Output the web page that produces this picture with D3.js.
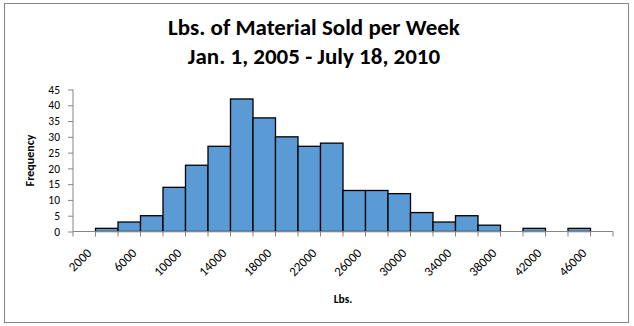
<!DOCTYPE html>
<html>
<head>
<meta charset="utf-8">
<script src="https://cdn.jsdelivr.net/npm/d3@7"></script>
<style>
body { margin:0; background:#fff; }
svg text { font-family: Calibri, Carlito, Lato, sans-serif; fill:#000; }
</style>
</head>
<body>
<svg id="chart" width="634" height="326"></svg>
<script>
// weekly sales, binned in 2000 lb steps
var bins = [2000,4000,6000,8000,10000,12000,14000,16000,18000,20000,22000,24000,
            26000,28000,30000,32000,34000,36000,38000,40000,42000,44000,46000,48000];
var freq = [0,1,3,5,14,21,27,42,36,30,27,28,13,13,12,6,3,5,2,0,1,0,1,0];
var yTicks = [0,5,10,15,20,25,30,35,40,45];
var titleLines = ["Lbs. of Material Sold per Week", "Jan. 1, 2005 - July 18, 2010"];

var svg = d3.select('#chart');
var plotLeft = 73, plotRight = 613, plotTop = 89.5, plotBottom = 231.5;
var axisColor = '#868686';

// outer frame
svg.append('rect')
	.attr('x', 4.5).attr('y', 3.5)
	.attr('width', 624).attr('height', 319)
	.attr('fill', 'none')
	.attr('stroke', axisColor)
	.attr('stroke-width', 1);

var title = svg.append('text')
	.attr('text-anchor', 'middle')
	.style('font-size', '23px')
	.style('font-weight', 'bold');
title.selectAll('tspan')
	.data(titleLines).enter()
	.append('tspan')
	.attr('x', 314)
	.attr('y', function(d, i){ return 35 + i*29;})
	.text(function(d){ return d;});

var x = d3.scaleBand()
	.domain(bins)
	.range([plotLeft, plotRight])
	.padding(0);
var y = d3.scaleLinear()
	.domain([0, 45])
	.range([plotBottom, plotTop]);

svg.append('g')
	.attr('class', 'bars')
	.selectAll('rect')
	.data(bins.filter(function(b, i){ return freq[i] > 0;}))
	.enter()
	.append('rect')
	.attr('x', function(b){ return x(b);})
	.attr('y', function(b){ return y(freq[bins.indexOf(b)]);})
	.attr('width', x.bandwidth())
	.attr('height', function(b){ return plotBottom - y(freq[bins.indexOf(b)]);})
	.attr('fill', '#5a9bd5')
	.attr('stroke', '#000')
	.attr('stroke-width', 1.3);

// y axis
var yAxis = svg.append('g')
	.attr('transform', 'translate(' + plotLeft + ',0)')
	.call(d3.axisLeft(y).tickValues(yTicks).tickSize(5).tickPadding(8));
yAxis.selectAll('path, line').attr('stroke', axisColor);
yAxis.select('.domain').attr('d', 'M0,' + plotTop + 'V' + plotBottom);
yAxis.selectAll('text')
	.style('font-size', '11.5px')
	.style('font-family', 'Calibri, Carlito, Lato, sans-serif');

// x axis: ticks sit between categories
var xAxis = svg.append('g').attr('class', 'x-axis');
xAxis.append('line')
	.attr('x1', plotLeft).attr('x2', plotRight)
	.attr('y1', plotBottom).attr('y2', plotBottom)
	.attr('stroke', axisColor);
xAxis.selectAll('line.tick')
	.data(bins.concat([null]))
	.enter()
	.append('line')
	.attr('class', 'tick')
	.attr('x1', function(b, i){ return plotLeft + i*x.bandwidth();})
	.attr('x2', function(b, i){ return plotLeft + i*x.bandwidth();})
	.attr('y1', plotBottom).attr('y2', plotBottom + 5)
	.attr('stroke', axisColor);
xAxis.selectAll('text')
	.data(bins.filter(function(b, i){ return i % 2 == 0;}))
	.enter()
	.append('text')
	.attr('transform', function(b){
		return 'translate(' + (x(b) + x.bandwidth()/2 + 5) + ',' + (plotBottom + 19) + ') rotate(-45)';
	})
	.attr('text-anchor', 'end')
	.attr('dy', '0.35em')
	.style('font-size', '13px')
	.text(function(b){ return b;});

svg.append('text')
	.attr('x', 343).attr('y', 303)
	.attr('text-anchor', 'middle')
	.style('font-size', '11.5px')
	.style('font-weight', 'bold')
	.text('Lbs.');

svg.append('text')
	.attr('transform', 'translate(34,' + ((plotTop + plotBottom)/2) + ') rotate(-90)')
	.attr('text-anchor', 'middle')
	.style('font-size', '12px')
	.style('font-weight', 'bold')
	.text('Frequency');
</script>
</body>
</html>
